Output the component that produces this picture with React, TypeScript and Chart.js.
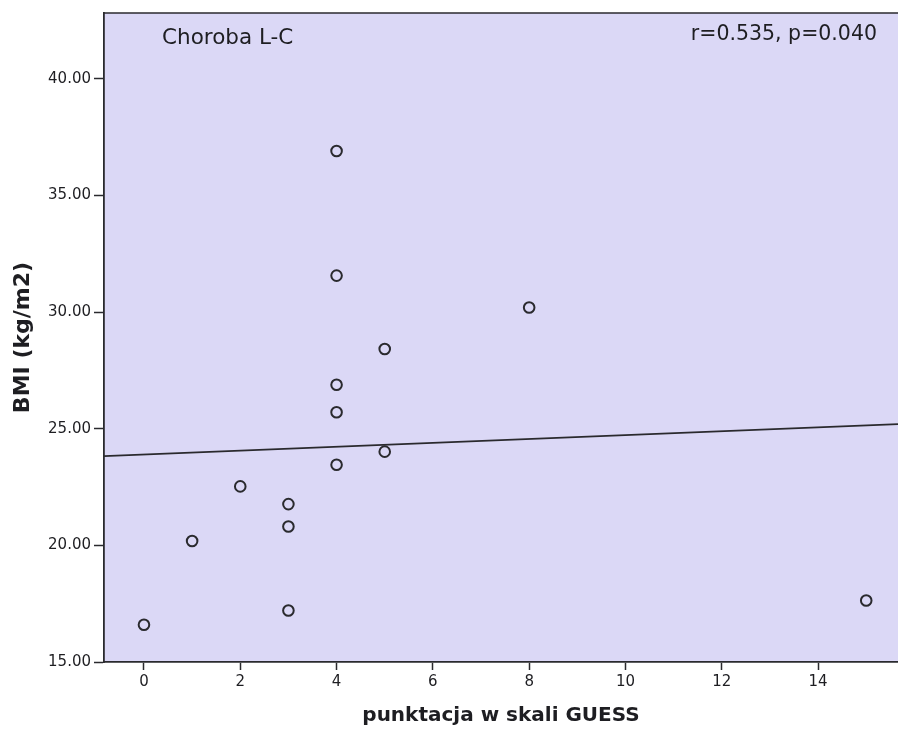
import React, { useEffect, useRef } from "react";
import { Chart, registerables } from "chart.js";

Chart.register(...registerables);

// GUESS score (x) and BMI (y) for each patient
const guessScores = [0, 1, 2, 3, 3, 3, 4, 4, 4, 4, 4, 5, 5, 8, 15];
const bmiValues = [16.6, 20.19, 22.53, 21.77, 20.81, 17.21, 36.91, 31.57, 26.89, 25.71, 23.46, 28.42, 24.02, 30.2, 17.64];

// Fitted regression line endpoints
const fitX = [-0.83, 15.66];
const fitY = [23.83, 25.2];

const xTicks = [0, 2, 4, 6, 8, 10, 12, 14];
const yTicks = [15, 20, 25, 30, 35, 40];

const groupLabel = "Choroba L-C";
const statsLabel = "r=0.535, p=0.040";
const xTitle = "punktacja w skali GUESS";
const yTitle = "BMI (kg/m2)";

const FONT = "'DejaVu Sans', sans-serif";
const INK = "#2a2a2e";
const PLOT_BG = "#dbd8f6";

export default function App() {
  const ref = useRef<HTMLCanvasElement | null>(null);

  useEffect(() => {
    document.body.style.margin = "0";
    const canvas = ref.current;
    if (!canvas) return;

    const bgPlugin = {
      id: "plotBg",
      beforeDraw(chart: any) {
        const { ctx, chartArea } = chart;
        ctx.save();
        ctx.fillStyle = PLOT_BG;
        ctx.fillRect(chartArea.left, chartArea.top, chartArea.right - chartArea.left, chartArea.bottom - chartArea.top);
        ctx.strokeStyle = INK;
        ctx.lineWidth = 1.5;
        ctx.beginPath();
        ctx.moveTo(chartArea.left, chartArea.top);
        ctx.lineTo(chartArea.right, chartArea.top);
        ctx.stroke();
        ctx.restore();
      },
      afterDraw(chart: any) {
        const { ctx, chartArea } = chart;
        ctx.save();
        ctx.fillStyle = "#1e1e22";
        ctx.font = `21.5px ${FONT}`;
        ctx.textBaseline = "middle";
        ctx.textAlign = "left";
        ctx.fillText(groupLabel, chartArea.left + 58, chartArea.top + 25);
        ctx.font = `20.5px ${FONT}`;
        ctx.textAlign = "right";
        ctx.fillText(statsLabel, chartArea.right - 21, chartArea.top + 22);
        ctx.restore();
      },
    };

    const chart = new Chart(canvas, {
      type: "scatter",
      data: {
        datasets: [
          {
            type: "line",
            label: "fit",
            data: fitX.map((x, i) => ({ x, y: fitY[i] })),
            borderColor: INK,
            borderWidth: 1.6,
            pointRadius: 0,
            fill: false,
          } as any,
          {
            label: "BMI",
            data: guessScores.map((x, i) => ({ x, y: bmiValues[i] })),
            pointStyle: "circle",
            pointRadius: 5.3,
            pointBorderWidth: 2,
            pointBorderColor: INK,
            pointBackgroundColor: "rgba(0,0,0,0)",
            showLine: false,
          },
        ],
      },
      options: {
        animation: false,
        responsive: false,
        layout: { autoPadding: false, padding: { top: 13, right: 0, bottom: 0, left: 0 } },
        plugins: {
          legend: { display: false },
          tooltip: { enabled: false },
        },
        scales: {
          x: {
            type: "linear",
            min: fitX[0],
            max: fitX[1],
            afterBuildTicks: (scale: any) => {
              scale.ticks = xTicks.map((v) => ({ value: v }));
            },
            afterFit: (scale: any) => {
              scale.height = 67;
              scale.paddingLeft = 0;
              scale.paddingRight = 0;
            },
            grid: {
              display: true,
              drawOnChartArea: false,
              drawTicks: true,
              tickLength: 8,
              tickWidth: 1.5,
              color: INK,
            },
            border: { display: true, color: INK, width: 1.8 },
            ticks: {
              color: "#1e1e22",
              font: { family: FONT, size: 15 },
              padding: 3,
              maxRotation: 0,
              callback: (v: any) => String(v),
            },
            title: {
              display: true,
              text: xTitle,
              color: "#1e1e22",
              font: { family: FONT, size: 20, weight: "bold" },
              padding: { top: 0, bottom: 1 },
            },
          },
          y: {
            type: "linear",
            min: 15,
            max: 42.83,
            afterBuildTicks: (scale: any) => {
              scale.ticks = yTicks.map((v) => ({ value: v }));
            },
            afterFit: (scale: any) => {
              scale.width = 104;
              scale.paddingTop = 0;
              scale.paddingBottom = 0;
            },
            grid: {
              display: true,
              drawOnChartArea: false,
              drawTicks: true,
              tickLength: 10,
              tickWidth: 1.5,
              color: INK,
            },
            border: { display: true, color: INK, width: 1.8 },
            ticks: {
              color: "#1e1e22",
              font: { family: FONT, size: 15 },
              padding: 3,
              callback: (v: any) => Number(v).toFixed(2),
            },
            title: {
              display: true,
              text: yTitle,
              color: "#1e1e22",
              font: { family: FONT, size: 22, weight: "bold" },
              padding: { top: 10, bottom: 0 },
            },
          },
        },
      },
      plugins: [bgPlugin],
    });

    return () => chart.destroy();
  }, []);

  return (
    <div style={{ width: 898, height: 729, background: "#fff" }}>
      <canvas ref={ref} width={898} height={729} style={{ display: "block" }} />
    </div>
  );
}
